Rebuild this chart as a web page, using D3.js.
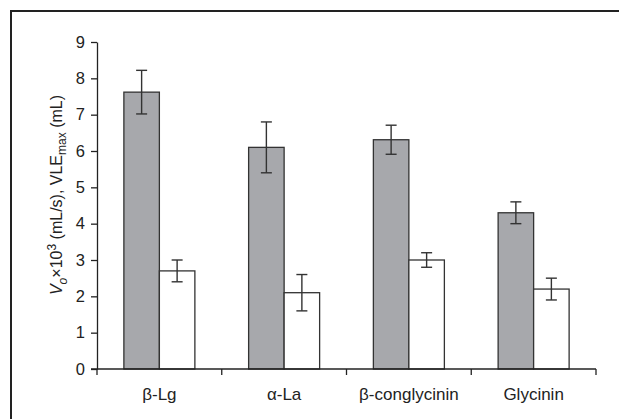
<!DOCTYPE html>
<html>
<head>
<meta charset="utf-8">
<script src="https://cdn.jsdelivr.net/npm/d3@7"></script>
<style>
  body { margin: 0; background: #fff; }
  svg { display: block; font-family: "Liberation Sans", Arial, sans-serif; }
</style>
</head>
<body>
<script>
var width = 619,
    height = 419;

// data
var proteins = ["β-Lg", "α-La", "β-conglycinin", "Glycinin"];
var vo = [7.62, 6.1, 6.31, 4.3];        // grey bars
var voErr = [0.6, 0.7, 0.4, 0.3];
var vle = [2.7, 2.1, 3.0, 2.2];         // white bars
var vleErr = [0.3, 0.5, 0.2, 0.3];
var yTicks = [0, 1, 2, 3, 4, 5, 6, 7, 8, 9];

var margin = {left: 97, right: 23, top: 42, bottom: 50};

var svg = d3.select("body").append("svg")
    .attr("width", width)
    .attr("height", height);

// frame (only top and left edges show in the original)
svg.append("path")
    .attr("d", "M11,419 V11 H619")
    .attr("fill", "none")
    .attr("stroke", "#222")
    .attr("stroke-width", 2);

var x = d3.scaleBand()
    .domain(proteins)
    .range([margin.left, width - margin.right]);

var y = d3.scaleLinear()
    .domain([0, 9])
    .range([height - margin.bottom, margin.top]);

var barW = 35.5;

var groups = proteins.map(function(p, i) {
  return {name: p, vo: vo[i], voErr: voErr[i], vle: vle[i], vleErr: vleErr[i]};
});

var g = svg.selectAll("g.grp")
    .data(groups)
  .enter().append("g")
    .attr("class", "grp");

g.append("rect")
    .attr("x", function(d) { return x(d.name) + x.bandwidth() / 2 - barW; })
    .attr("y", function(d) { return y(d.vo); })
    .attr("width", barW)
    .attr("height", function(d) { return y(0) - y(d.vo); })
    .attr("fill", "#a7a8ac")
    .attr("stroke", "#333")
    .attr("stroke-width", 1.3);

g.append("rect")
    .attr("x", function(d) { return x(d.name) + x.bandwidth() / 2; })
    .attr("y", function(d) { return y(d.vle); })
    .attr("width", barW)
    .attr("height", function(d) { return y(0) - y(d.vle); })
    .attr("fill", "#fff")
    .attr("stroke", "#333")
    .attr("stroke-width", 1.3);

function errBar(sel, cx, val, err) {
  var e = sel.append("g").attr("stroke", "#333").attr("stroke-width", 1.4);
  e.append("line")
      .attr("x1", cx).attr("x2", cx)
      .attr("y1", function(d) { return y(val(d) + err(d)); })
      .attr("y2", function(d) { return y(val(d) - err(d)); });
  [1, -1].forEach(function(s) {
    e.append("line")
        .attr("x1", function(d) { return cx(d) - 5.5; })
        .attr("x2", function(d) { return cx(d) + 5.5; })
        .attr("y1", function(d) { return y(val(d) + s * err(d)); })
        .attr("y2", function(d) { return y(val(d) + s * err(d)); });
  });
}

errBar(g, function(d) { return x(d.name) + x.bandwidth() / 2 - barW / 2; },
       function(d) { return d.vo; }, function(d) { return d.voErr; });
errBar(g, function(d) { return x(d.name) + x.bandwidth() / 2 + barW / 2; },
       function(d) { return d.vle; }, function(d) { return d.vleErr; });

// y axis
var yAxis = svg.append("g")
    .attr("transform", "translate(" + margin.left + ",0)")
    .call(d3.axisLeft(y).tickValues(yTicks).tickSize(6).tickPadding(6).tickSizeOuter(0));
yAxis.select(".domain").attr("stroke", "#222").attr("stroke-width", 1.3);
yAxis.selectAll(".tick line").attr("stroke", "#222").attr("stroke-width", 1.3);
yAxis.selectAll("text").attr("font-size", 16.5).attr("fill", "#222")
    .attr("font-family", "Liberation Sans, Arial, sans-serif");

// x axis: ticks at band boundaries
var xAxisG = svg.append("g")
    .attr("transform", "translate(0," + y(0) + ")");
xAxisG.append("line")
    .attr("x1", margin.left - 6).attr("x2", width - margin.right)
    .attr("stroke", "#222").attr("stroke-width", 1.3);
var bounds = proteins.map(function(p) { return x(p); }).concat([width - margin.right]);
xAxisG.selectAll("line.tk")
    .data(bounds)
  .enter().append("line")
    .attr("class", "tk")
    .attr("x1", function(d) { return d; }).attr("x2", function(d) { return d; })
    .attr("y1", 0).attr("y2", 6)
    .attr("stroke", "#222").attr("stroke-width", 1.3);
xAxisG.selectAll("text")
    .data(proteins)
  .enter().append("text")
    .attr("x", function(d) { return x(d) + x.bandwidth() / 2; })
    .attr("y", 31)
    .attr("text-anchor", "middle")
    .attr("font-size", 17)
    .attr("fill", "#222")
    .text(function(d) { return d; });

// y label
var lab = svg.append("text")
    .attr("transform", "translate(62," + 195 + ") rotate(-90)")
    .attr("text-anchor", "middle")
    .attr("font-size", 16)
    .attr("fill", "#222");
lab.append("tspan").attr("font-style", "italic").text("V");
lab.append("tspan").attr("font-style", "italic").attr("font-size", 12).attr("dy", 5).text("o");
lab.append("tspan").attr("dy", -5).text("×10");
lab.append("tspan").attr("font-size", 12).attr("dy", -6).text("3");
lab.append("tspan").attr("dy", 6).text(" (mL/s), VLE");
lab.append("tspan").attr("font-size", 12).attr("dy", 4).text("max");
lab.append("tspan").attr("dy", -4).text(" (mL)");
</script>
</body>
</html>
